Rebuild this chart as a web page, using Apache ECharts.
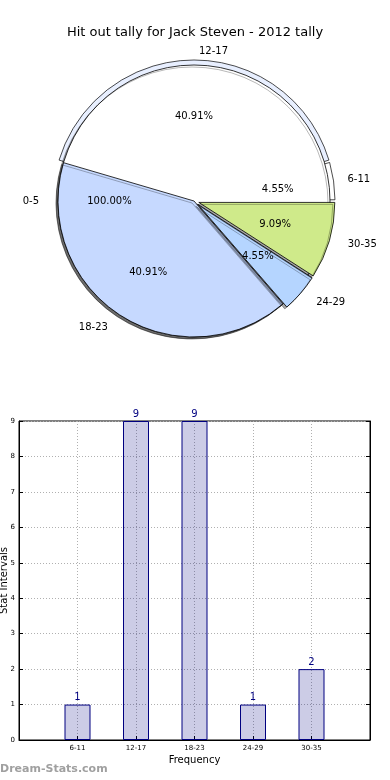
<!DOCTYPE html>
<html><head><meta charset="utf-8">
<script src="https://cdn.jsdelivr.net/npm/echarts@6/dist/echarts.min.js"></script>
<style>html,body{margin:0;padding:0;background:#fff}#c{width:390px;height:780px}</style>
</head><body><div id="c"></div>
<script>
// ---- data ----
const chartTitle = 'Hit out tally for Jack Steven - 2012 tally';
const categories = ['6-11', '12-17', '18-23', '24-29', '30-35'];
const counts = [1, 9, 9, 1, 2];
const backdropCategory = ['0-5'];
const backdropValue = [1];
const yMin = 0, yMax = 9, yStep = 1;
const xAxisName = 'Frequency';
const yAxisName = 'Stat Intervals';
const watermark = 'Dream-Stats.com';

// ---- styles ----
const FONT = 'DejaVu Sans';
const CX = 194, CY = 201, R = 136;
const sliceColors = ['rgba(0,0,0,0)', 'rgba(0,0,0,0)', '#c6d9ff', '#b5d5ff', '#cfea8a'];
const bandColors = ['#ffffff', '#e8efff', 'rgba(0,0,0,0)', 'rgba(0,0,0,0)', 'rgba(0,0,0,0)'];
const exploded = [false, false, false, true, true];
const shadow = {shadowColor: 'rgba(0,0,0,0.35)', shadowOffsetX: -2, shadowOffsetY: 2, shadowBlur: 0};

const chart = echarts.init(document.getElementById('c'), null, {renderer: 'canvas'});

const totalCount = counts.reduce((a, b) => a + b, 0);
const totalBackdrop = backdropValue.reduce((a, b) => a + b, 0);
const pctOf = total => p => (p.value / total * 100).toFixed(2) + '%';
const outerLabel = {show: true, position: 'outside', formatter: '{b}', fontFamily: FONT, fontSize: 10, color: '#000'};
const noLine = {show: false, length: 14, length2: 0};
const pctLabel = total => ({show: true, position: 'inside', formatter: pctOf(total), fontFamily: FONT, fontSize: 10, color: '#000'});

const option = {
  animation: false,
  backgroundColor: '#fff',
  title: {text: chartTitle, left: 'center', top: 21,
    textStyle: {fontFamily: FONT, fontSize: 13, fontWeight: 'normal', color: '#000'}},
  graphic: [{type: 'text', left: 0, top: 764,
    style: {text: watermark, fontFamily: FONT, fontSize: 11, fontWeight: 'bold', fill: '#a0a0a0'}}],
  grid: {left: 19, right: 20, top: 421, bottom: 40, show: true, borderColor: '#000', borderWidth: 1,
    containLabel: false, outerBoundsMode: 'none'},
  xAxis: {
    type: 'category', data: [''].concat(categories, ['']), boundaryGap: false,
    axisLine: {lineStyle: {color: '#000'}},
    axisTick: {inside: true, length: 4, lineStyle: {color: '#000'}},
    axisLabel: {fontFamily: FONT, fontSize: 7, color: '#000', margin: 5, interval: 0},
    splitLine: {show: true, lineStyle: {color: '#b0b0b0', type: [1, 2]}},
    name: xAxisName, nameLocation: 'middle', nameGap: 15, nameMoveOverlap: false,
    nameTextStyle: {fontFamily: FONT, fontSize: 10, color: '#000'}
  },
  yAxis: [{
    type: 'value', min: yMin, max: yMax, interval: yStep,
    axisLine: {show: true, lineStyle: {color: '#000'}},
    axisTick: {show: true, inside: true, length: 4, lineStyle: {color: '#000'}},
    axisLabel: {fontFamily: FONT, fontSize: 7, color: '#000', margin: 4},
    splitLine: {show: true, lineStyle: {color: '#b0b0b0', type: [1, 2]}},
    name: yAxisName, nameLocation: 'middle', nameGap: 10, nameRotate: 90, nameMoveOverlap: false,
    nameTextStyle: {fontFamily: FONT, fontSize: 10, color: '#000'}
  }, {
    type: 'value', position: 'right', min: yMin, max: yMax, interval: yStep,
    axisLine: {show: true, lineStyle: {color: '#000'}},
    axisTick: {show: true, inside: true, length: 4, lineStyle: {color: '#000'}},
    axisLabel: {show: false}, splitLine: {show: false}
  }],
  series: [
    // exploded outer band (behind)
    {type: 'pie', z: 1, center: [CX, CY], radius: [0, R + 5], startAngle: 0, clockwise: false,
      padAngle: 1, silent: true, label: {show: false}, labelLine: {show: false},
      data: categories.map((n, i) => ({name: n, value: counts[i],
        itemStyle: {color: bandColors[i], borderColor: i < 2 ? '#000' : 'rgba(0,0,0,0)', borderWidth: 0.7}}))},
    // backdrop disc
    {type: 'pie', z: 2, center: [CX, CY], radius: [0, R], startAngle: 0, clockwise: false,
      silent: true, avoidLabelOverlap: false, label: outerLabel, labelLine: noLine,
      itemStyle: Object.assign({color: '#fff', borderColor: '#000', borderWidth: 0.8}, shadow),
      data: backdropCategory.map((n, i) => ({name: n, value: backdropValue[i]}))},
    // front slices
    {type: 'pie', z: 3, center: [CX, CY], radius: [0, R], startAngle: 0, clockwise: false,
      silent: true, avoidLabelOverlap: false, selectedMode: 'multiple', selectedOffset: 5,
      label: outerLabel, labelLine: noLine,
      data: categories.map((n, i) => ({name: n, value: counts[i], selected: exploded[i],
        itemStyle: Object.assign({color: sliceColors[i], borderColor: i < 2 ? 'rgba(0,0,0,0)' : '#000', borderWidth: 0.8},
          i < 2 ? {} : shadow),
        select: {itemStyle: {color: sliceColors[i]}}}))},
    // percentage labels
    {type: 'pie', z: 6, center: [CX, CY], radius: [0, R * 1.2], startAngle: 0, clockwise: false,
      silent: true, avoidLabelOverlap: false, itemStyle: {color: 'rgba(0,0,0,0)'},
      label: pctLabel(totalCount), labelLine: {show: false},
      data: categories.map((n, i) => ({name: n, value: counts[i]}))},
    {type: 'pie', z: 6, center: [CX, CY], radius: [0, R * 1.2], startAngle: 0, clockwise: false,
      silent: true, avoidLabelOverlap: false, itemStyle: {color: 'rgba(0,0,0,0)'},
      label: pctLabel(totalBackdrop), labelLine: {show: false},
      data: backdropCategory.map((n, i) => ({name: n, value: backdropValue[i]}))},
    // bars
    {type: 'bar', barWidth: 26,
      itemStyle: {color: 'rgba(0,0,128,0.2)', borderColor: '#000080', borderWidth: 1},
      label: {show: true, position: 'top', distance: 2, fontFamily: FONT, fontSize: 10, color: '#000080'},
      data: categories.map((c, i) => [c, counts[i]])}
  ]
};
chart.setOption(option);
</script></body></html>
